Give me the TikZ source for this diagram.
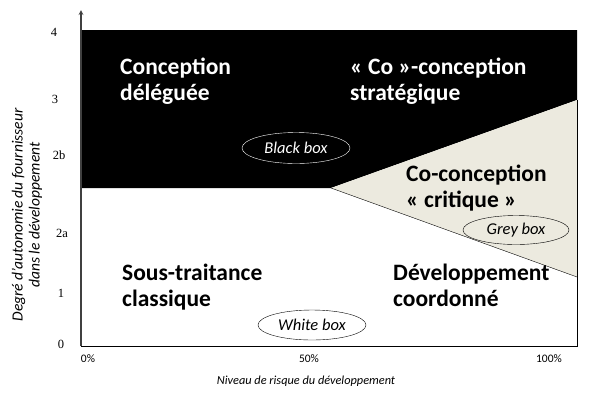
\documentclass[tikz,border=0pt]{standalone}
\usepackage{fontspec}
\setmainfont{Carlito}
\newfontfamily\timesfont{Liberation Serif}
\usetikzlibrary{shapes.geometric}
\definecolor{beige}{HTML}{ECEADF}
\tikzset{>=stealth}
\tikzset{zone/.style={font=\fontsize{23.5}{26}\selectfont\bfseries, align=left, anchor=base west, inner sep=0pt},
  boxlabel/.style={ellipse, draw, font=\fontsize{16.5}{18}\selectfont\itshape, minimum width=108pt, minimum height=31pt, inner sep=0pt},
  axistitle/.style={font=\fontsize{12.3}{14}\selectfont\itshape, align=center}}

\begin{document}
\begin{tikzpicture}[x=1pt,y=-1pt]
\useasboundingbox (0,0) rectangle (592,392);
% corners of the zones
\coordinate (O) at (81,346);
\coordinate (T) at (81,10);
\coordinate (E) at (578,346);
\coordinate (A) at (81,30);
\coordinate (B) at (577,30);
\coordinate (R) at (577,100);
\coordinate (M) at (331,188);
\coordinate (L) at (81,188);
\coordinate (S) at (577,277);
\coordinate (P) at (577,346);
\fill[black] (A) -- (B) -- (R) -- (M) -- (L) -- cycle;
\fill[beige] (M) -- (R) -- (S) -- cycle;
\draw (M) -- (S);
\draw (R) -- (P);
\draw[->, line width=1.2pt, black!75] (O) -- (T);
\draw (O) -- (E);
% graduations
\foreach \lab/\x/\y in {4/54/32, 3/55/99, 2b/59/155, 2a/62/233, 1/61/293, 0/61/344}
\node[font=\timesfont\fontsize{12.5}{14}\selectfont] (tick\lab) at (\x,\y) {\lab};
\node[font=\fontsize{11.5}{13}\selectfont] (x0) at (88,359) {0\%};
\node[font=\fontsize{11.5}{13}\selectfont] (x50) at (309,359) {50\%};
\node[font=\fontsize{11.5}{13}\selectfont] (x100) at (549,359) {100\%};
\node[axistitle] (xtitle) at (306,381) {Niveau de risque du développement};
\node[axistitle, font=\fontsize{15.5}{17}\selectfont\itshape, rotate=90] (ytitle) at (27,215) {Degré d'autonomie du fournisseur\\dans le développement};
% zones
\node[zone, white] (deleguee) at (120,100) {Conception\\déléguée};
\node[zone, white] (strategique) at (350,100) {«~Co~»-conception\\stratégique};
\node[zone] (critique) at (406,207) {Co-conception\\«~critique~»};
\node[zone] (classique) at (122,306) {Sous-traitance\\classique};
\node[zone] (coordonne) at (393,306) {Développement\\coordonné};
% boxes
\node[boxlabel, white] (blackbox) at (296,148) {Black box};
\node[boxlabel, minimum width=106pt, minimum height=29pt] (greybox) at (516,230) {Grey box};
\node[boxlabel, minimum height=30pt] (whitebox) at (312,325) {White box};
\end{tikzpicture}
\end{document}
